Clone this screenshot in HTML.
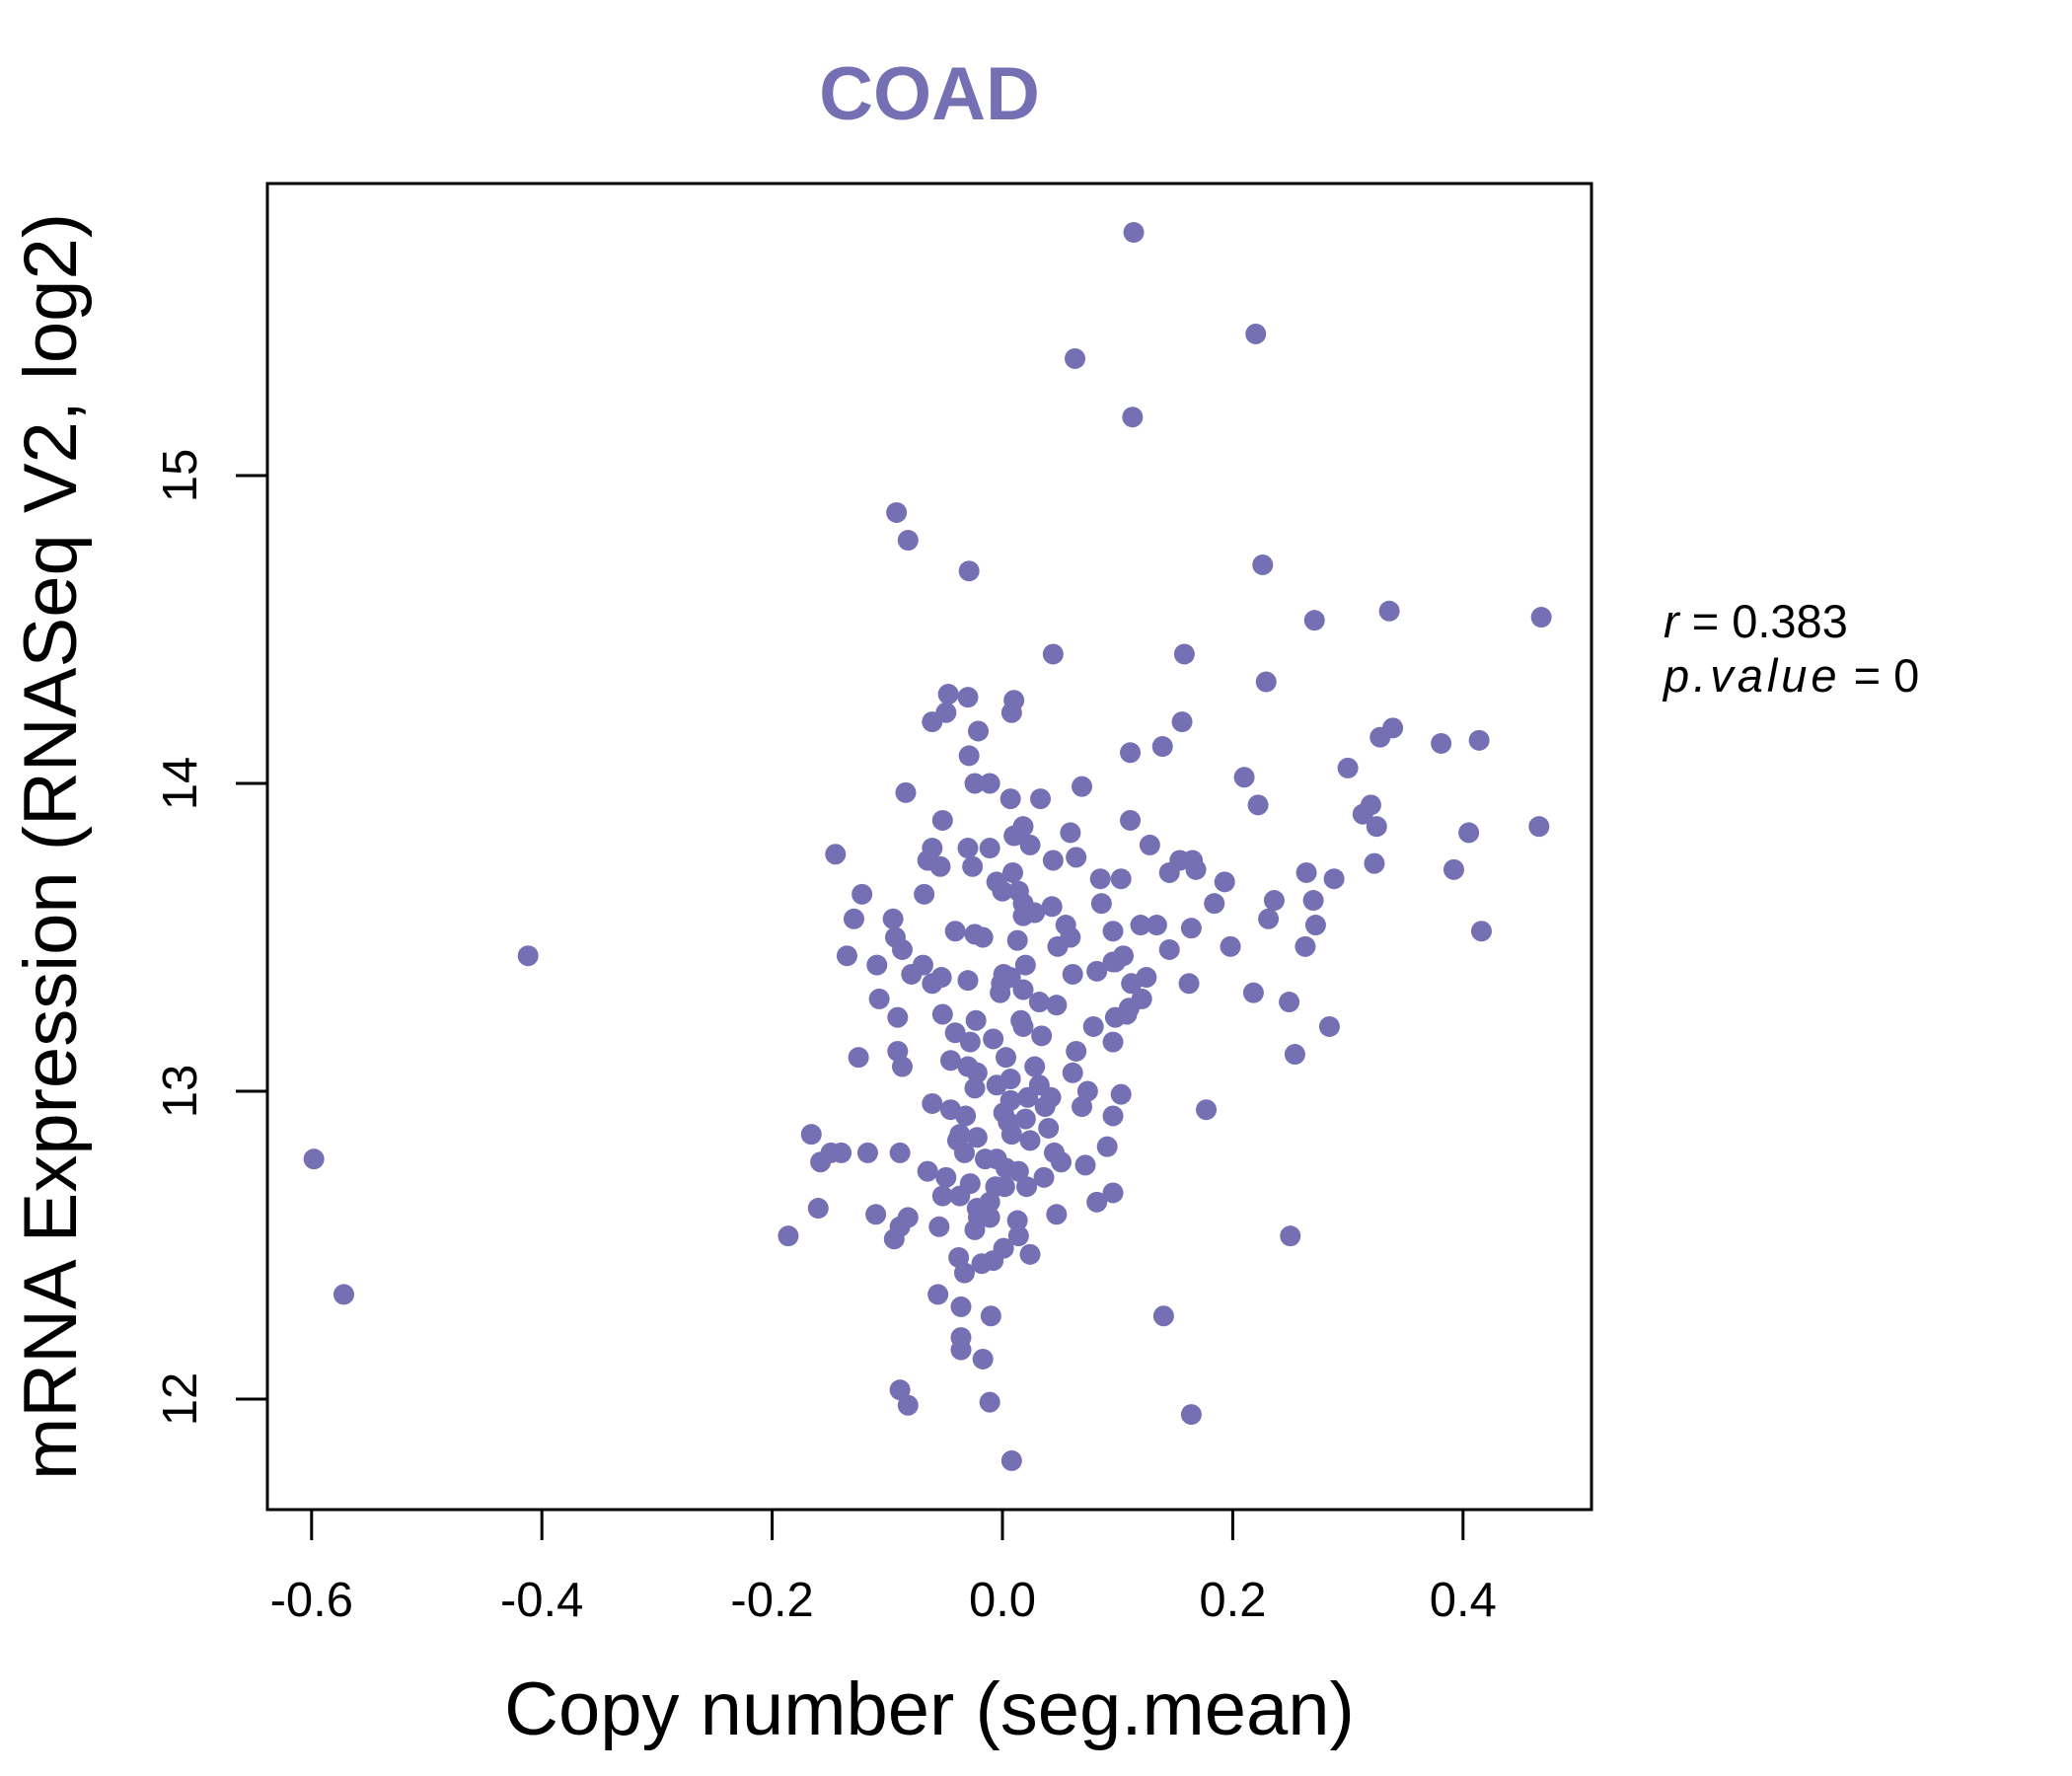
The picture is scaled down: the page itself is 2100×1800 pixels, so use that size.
<!DOCTYPE html>
<html><head><meta charset="utf-8"><style>html,body{margin:0;padding:0;background:#fff}svg{display:block}</style></head>
<body>
<svg id="chart" width="2100" height="1800" xmlns="http://www.w3.org/2000/svg" font-family="'Liberation Sans', sans-serif">
<rect width="2100" height="1800" fill="#fff"/>
<text x="942" y="121" text-anchor="middle" font-size="76" font-weight="bold" fill="#7570B3">COAD</text>
<rect x="271" y="186" width="1342" height="1344" fill="none" stroke="#000" stroke-width="3"/>
<g id="xaxis"></g>
<g id="yaxis"></g>
<g id="points"></g>
<text x="942" y="1758" text-anchor="middle" font-size="76">Copy number (seg.mean)</text>
<text transform="translate(77,858) rotate(-90)" text-anchor="middle" font-size="76">mRNA Expression (RNASeq V2, log2)</text>
<text x="1686" y="646" font-size="47"><tspan font-style="italic">r</tspan> = 0.383</text>
<text x="1686" y="701" font-size="47"><tspan font-style="italic" letter-spacing="4">p.value</tspan> = 0</text>
</svg>
<script>
const xTicks = [-0.6, -0.4, -0.2, 0.0, 0.2, 0.4];
const xTickLabels = ["-0.6", "-0.4", "-0.2", "0.0", "0.2", "0.4"];
const yTicks = [12, 13, 14, 15];
const yTickLabels = ["12", "13", "14", "15"];
const copyNumber = [0.114,0.220,0.063,0.113,-0.092,-0.082,-0.029,0.226,0.271,0.336,0.468,0.044,0.158,0.229,-0.047,-0.030,0.010,-0.049,-0.061,0.008,-0.021,0.156,0.339,0.328,0.139,0.111,0.381,0.414,-0.029,0.300,0.210,-0.024,-0.011,0.069,-0.084,0.007,0.033,0.222,0.320,0.313,-0.052,0.111,0.325,0.466,0.018,0.059,0.010,0.405,-0.061,-0.030,-0.011,0.024,0.128,-0.145,-0.065,0.044,0.064,0.154,0.165,-0.054,-0.026,0.323,0.145,0.168,0.264,0.392,0.009,0.085,0.103,-0.005,0.193,0.288,-0.122,-0.068,0.000,0.014,0.236,0.270,0.184,0.018,0.043,0.086,0.028,0.018,-0.129,-0.095,0.231,0.055,0.134,0.272,-0.041,-0.024,0.164,0.416,0.096,0.120,-0.017,-0.093,0.059,0.013,-0.087,0.048,0.145,0.198,0.263,-0.135,0.105,0.098,-0.109,-0.069,0.020,0.096,-0.079,-0.053,0.001,0.061,0.125,-0.001,0.007,-0.061,-0.030,0.082,0.112,0.162,0.018,-0.002,-0.107,0.218,0.249,0.032,0.121,0.047,0.110,-0.091,-0.052,0.016,0.098,0.108,-0.023,0.079,0.284,-0.041,0.018,0.034,-0.008,-0.028,0.096,-0.091,0.064,-0.125,-0.045,0.003,0.254,-0.087,0.028,-0.030,-0.022,0.061,0.007,-0.005,-0.024,0.074,0.032,0.103,0.022,0.007,0.042,-0.061,0.037,-0.045,0.069,0.001,0.177,-0.032,0.096,0.020,0.005,0.040,-0.166,-0.037,0.008,-0.022,-0.039,0.024,0.091,-0.089,-0.117,-0.149,-0.140,0.045,-0.033,-0.015,-0.005,-0.158,0.051,0.072,0.003,-0.065,0.014,-0.049,0.036,-0.028,0.021,0.002,-0.006,0.096,-0.052,-0.037,-0.011,0.082,-0.160,-0.022,0.047,-0.110,-0.082,-0.021,-0.011,0.013,-0.055,-0.089,-0.024,-0.186,0.250,0.014,-0.094,0.001,0.024,-0.038,-0.018,-0.008,-0.033,-0.056,-0.036,0.140,-0.010,-0.036,-0.036,-0.017,-0.089,-0.082,-0.011,0.164,0.008,-0.412,-0.598,-0.572];
const expression = [15.79,15.46,15.38,15.19,14.88,14.79,14.69,14.71,14.53,14.56,14.54,14.42,14.42,14.33,14.29,14.28,14.27,14.23,14.20,14.23,14.17,14.20,14.18,14.15,14.12,14.10,14.13,14.14,14.09,14.05,14.02,14.00,14.00,13.99,13.97,13.95,13.95,13.93,13.93,13.90,13.88,13.88,13.86,13.86,13.86,13.84,13.83,13.84,13.79,13.79,13.79,13.80,13.80,13.77,13.75,13.75,13.76,13.75,13.75,13.73,13.73,13.74,13.71,13.72,13.71,13.72,13.71,13.69,13.69,13.68,13.68,13.69,13.64,13.64,13.65,13.65,13.62,13.62,13.61,13.61,13.60,13.61,13.58,13.57,13.56,13.56,13.56,13.54,13.54,13.54,13.52,13.51,13.53,13.52,13.52,13.54,13.50,13.50,13.50,13.49,13.46,13.47,13.46,13.47,13.47,13.44,13.44,13.42,13.41,13.41,13.41,13.42,13.38,13.37,13.38,13.38,13.37,13.35,13.37,13.35,13.36,13.39,13.35,13.35,13.33,13.32,13.30,13.32,13.29,13.29,13.30,13.28,13.27,13.24,13.25,13.23,13.24,13.25,13.23,13.21,13.21,13.19,13.21,13.18,13.17,13.16,13.16,13.13,13.13,13.11,13.10,13.11,13.12,13.08,13.08,13.08,13.06,13.06,13.04,13.02,13.01,13.00,13.02,12.99,12.98,12.97,12.98,12.96,12.95,12.94,12.95,12.93,12.94,12.92,12.92,12.91,12.90,12.88,12.86,12.86,12.86,12.85,12.84,12.84,12.82,12.80,12.80,12.80,12.80,12.80,12.80,12.78,12.78,12.77,12.77,12.76,12.75,12.74,12.74,12.72,12.72,12.70,12.69,12.69,12.69,12.67,12.66,12.66,12.64,12.64,12.62,12.62,12.60,12.60,12.59,12.59,12.59,12.58,12.56,12.56,12.55,12.53,12.53,12.53,12.52,12.49,12.47,12.46,12.44,12.45,12.41,12.34,12.30,12.27,12.27,12.20,12.16,12.13,12.03,11.98,11.99,11.95,11.80,13.44,12.78,12.34];

const NS = "http://www.w3.org/2000/svg";
function xScale(v){ return 1016 + v * 1167; }
function yScale(v){ return 794 - (v - 14) * 312; }

const xg = document.getElementById('xaxis');
xTicks.forEach((t, i) => {
  const px = xScale(t);
  const ln = document.createElementNS(NS, 'line');
  
  
  ln.setAttribute('x1', px); ln.setAttribute('x2', px);
  ln.setAttribute('y1', 1530); ln.setAttribute('y2', 1561);
  ln.setAttribute('stroke', '#000'); ln.setAttribute('stroke-width', '3');
  xg.appendChild(ln);
  const tx = document.createElementNS(NS, 'text');
  
  
  tx.setAttribute('x', px); tx.setAttribute('y', 1638);
  tx.setAttribute('text-anchor', 'middle'); tx.setAttribute('font-size', '49');
  tx.textContent = xTickLabels[i];
  xg.appendChild(tx);
});

const yg = document.getElementById('yaxis');
yTicks.forEach((t, i) => {
  const py = yScale(t);
  const ln = document.createElementNS(NS, 'line');
  
  
  ln.setAttribute('x1', 239); ln.setAttribute('x2', 271);
  ln.setAttribute('y1', py); ln.setAttribute('y2', py);
  ln.setAttribute('stroke', '#000'); ln.setAttribute('stroke-width', '3');
  yg.appendChild(ln);
  const tx = document.createElementNS(NS, 'text');
  
  
  tx.setAttribute('transform', 'translate(199,' + py + ') rotate(-90)');
  tx.setAttribute('text-anchor', 'middle'); tx.setAttribute('font-size', '49');
  tx.textContent = yTickLabels[i];
  yg.appendChild(tx);
});

const pg = document.getElementById('points');
copyNumber.forEach((x, i) => {
  const c = document.createElementNS(NS, 'circle');
  
  
  c.setAttribute('cx', xScale(x));
  c.setAttribute('cy', yScale(expression[i]));
  c.setAttribute('r', 10.5);
  c.setAttribute('fill', '#7570B3');
  pg.appendChild(c);
});
</script>
</body></html>
